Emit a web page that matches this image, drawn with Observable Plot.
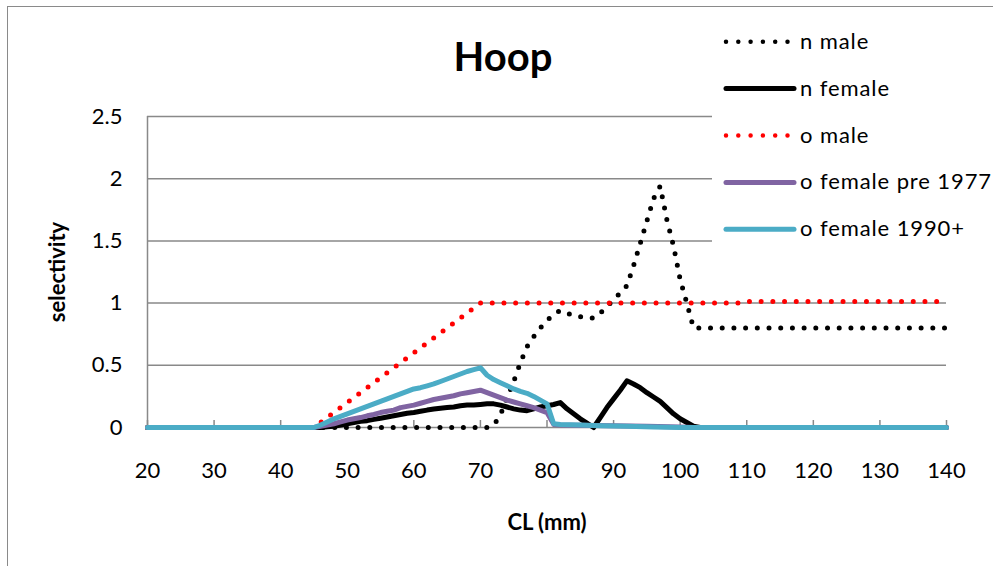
<!DOCTYPE html>
<html>
<head>
<meta charset="utf-8">
<script src="https://cdn.jsdelivr.net/npm/d3@7"></script>
<script src="https://cdn.jsdelivr.net/npm/@observablehq/plot@0.6"></script>
<style>
  body { margin: 0; background: #fff; }
  #wrap { position: relative; width: 993px; height: 566px; overflow: hidden; font-family: Lato, sans-serif; background: #fff; }
  #chart { position: absolute; left: 0; top: 0; }
  #border { position: absolute; left: 7px; top: 6px; width: 1200px; height: 800px;
            border-left: 1.5px solid #8a8a8a; border-top: 1.5px solid #8a8a8a; pointer-events: none; }
  #legend { position: absolute; left: 712px; top: 10px; width: 281px; height: 248px; background: #fff; }
</style>
</head>
<body>
<div id="wrap">
  <div id="chart"></div>
  <div id="legend"></div>
  <div id="border"></div>
</div>
<script>
// ---- data ----
const title = "Hoop";
const xLabel = "CL (mm)";
const yLabel = "selectivity";
const xTicks = [20, 30, 40, 50, 60, 70, 80, 90, 100, 110, 120, 130, 140];
const yTicks = [0, 0.5, 1, 1.5, 2, 2.5];

const seriesNames = ["n male", "n female", "o male", "o female pre 1977", "o female 1990+"];
const seriesColors = ["#000000", "#000000", "#ff0000", "#8064a2", "#4bacc6"];
const seriesDotted = [true, false, true, false, false];

const nMaleCL  = [20, 71, 72, 73, 74, 75, 76, 77, 78, 79, 80, 81, 82, 83, 84, 85, 86, 87, 88, 89, 90, 91, 92, 93, 94, 95, 96, 97, 98, 99, 100, 101, 102, 140];
const nMaleSel = [0, 0, 0.02, 0.10, 0.24, 0.37, 0.52, 0.65, 0.73, 0.80, 0.86, 0.91, 0.94, 0.92, 0.90, 0.89, 0.88, 0.88, 0.92, 0.97, 1.03, 1.08, 1.14, 1.30, 1.48, 1.66, 1.84, 1.94, 1.67, 1.46, 1.19, 1.0, 0.80, 0.80];

const nFemaleCL  = [20, 46, 47, 48, 49, 50, 51, 52, 53, 54, 55, 56, 57, 58, 59, 60, 61, 62, 63, 64, 65, 66, 67, 68, 69, 70, 71, 72, 73, 74, 75, 76, 77, 78, 79, 80, 81, 82, 83, 84, 85, 86, 87, 88, 89, 90, 91, 92, 93, 94, 95, 96, 97, 98, 99, 100, 101, 102, 103, 140];
const nFemaleSel = [0, 0, 0.005, 0.01, 0.02, 0.03, 0.04, 0.05, 0.055, 0.065, 0.075, 0.085, 0.095, 0.105, 0.115, 0.12, 0.13, 0.14, 0.148, 0.155, 0.16, 0.165, 0.175, 0.18, 0.18, 0.185, 0.19, 0.19, 0.18, 0.165, 0.15, 0.14, 0.135, 0.15, 0.165, 0.175, 0.185, 0.20, 0.15, 0.11, 0.07, 0.035, 0.0, 0.08, 0.16, 0.23, 0.30, 0.375, 0.35, 0.32, 0.28, 0.245, 0.21, 0.16, 0.11, 0.07, 0.04, 0.01, 0, 0];

const oMaleCL  = [20, 45, 70, 109, 110, 140];
const oMaleSel = [0, 0, 1.0, 1.0, 1.013, 1.013];

const oFemPreCL  = [20, 45, 46, 47, 48, 49, 50, 51, 52, 53, 54, 55, 56, 57, 58, 59, 60, 61, 62, 63, 64, 65, 66, 67, 68, 69, 70, 71, 72, 73, 74, 75, 76, 77, 78, 79, 80, 81, 82, 90, 95, 100, 102, 140];
const oFemPreSel = [0, 0, 0.01, 0.02, 0.03, 0.045, 0.06, 0.07, 0.08, 0.094, 0.105, 0.12, 0.13, 0.14, 0.16, 0.17, 0.18, 0.195, 0.21, 0.225, 0.235, 0.245, 0.255, 0.27, 0.28, 0.29, 0.30, 0.28, 0.26, 0.24, 0.22, 0.205, 0.19, 0.175, 0.16, 0.14, 0.12, 0.025, 0.02, 0.015, 0.01, 0.005, 0, 0];

const oFem90CL  = [20, 45, 46, 47, 48, 49, 50, 51, 52, 53, 54, 55, 56, 57, 58, 59, 60, 61, 62, 63, 64, 65, 66, 67, 68, 69, 70, 71, 72, 73, 74, 75, 76, 77, 78, 79, 80, 81, 82, 85, 88, 92, 96, 100, 140];
const oFem90Sel = [0, 0, 0.02, 0.045, 0.07, 0.09, 0.11, 0.13, 0.15, 0.17, 0.19, 0.21, 0.23, 0.25, 0.27, 0.29, 0.31, 0.32, 0.335, 0.35, 0.37, 0.39, 0.41, 0.43, 0.45, 0.465, 0.48, 0.42, 0.385, 0.36, 0.335, 0.31, 0.29, 0.275, 0.25, 0.22, 0.19, 0.03, 0.025, 0.02, 0.015, 0.01, 0.005, 0, 0];

const seriesCL  = [nMaleCL, nFemaleCL, oMaleCL, oFemPreCL, oFem90CL];
const seriesSel = [nMaleSel, nFemaleSel, oMaleSel, oFemPreSel, oFem90Sel];

// ---- build table ----
const rows = seriesNames.flatMap((name, s) =>
  seriesCL[s].map((c, i) => ({ series: name, cl: c, sel: seriesSel[s][i] })));

const grey = "#898989";
const font = "Lato, sans-serif";

const lineMarks = seriesNames.map((name, s) =>
  Plot.line(rows.filter(d => d.series === name), {
    x: "cl", y: "sel",
    stroke: seriesColors[s],
    strokeWidth: 5,
    strokeLinecap: "round",
    strokeLinejoin: "round",
    strokeDasharray: seriesDotted[s] ? "0 11.7" : null
  }));

const chart = Plot.plot({
  width: 993,
  height: 566,
  marginLeft: 147,
  marginRight: 47,
  marginTop: 116,
  marginBottom: 139,
  style: { fontFamily: font, fontSize: "22px", color: "#000", background: "transparent" },
  x: { domain: [20, 140] },
  y: { domain: [0, 2.5] },
  marks: [
    Plot.ruleY(yTicks.filter(d => d > 0), { stroke: grey, strokeWidth: 1.5 }),
    Plot.ruleX([20], { stroke: grey, strokeWidth: 1.5 }),
    Plot.ruleY([0], { stroke: grey, strokeWidth: 1.5 }),
    Plot.tickX(xTicks, { x: d => d, stroke: grey, strokeWidth: 1.5, insetTop: 304 }),
    Plot.axisX({ ticks: xTicks, tickSize: 0, tickPadding: 35, fontSize: 22, label: null, tickFormat: d => String(d) }),
    Plot.axisY({ ticks: yTicks, tickSize: 0, tickPadding: 25, fontSize: 22, label: null, tickFormat: d => String(d) }),
    ...lineMarks,
    Plot.text([title], { frameAnchor: "top", lineAnchor: "middle", textAnchor: "middle", dx: -44, dy: -58, fontSize: 40, fontWeight: "bold", fill: "#000" }),
    Plot.text([yLabel], { frameAnchor: "left", lineAnchor: "middle", textAnchor: "middle", dx: -90, rotate: -90, fontSize: 22, fontWeight: "bold", fill: "#000" }),
    Plot.text([xLabel], { frameAnchor: "bottom", lineAnchor: "middle", textAnchor: "middle", dy: 95, fontSize: 22, fontWeight: "bold", fill: "#000" })
  ]
});
document.getElementById("chart").appendChild(chart);

// ---- legend ----
const lg = d3.select("#legend").append("svg").attr("width", 281).attr("height", 248)
  .style("font-family", font);
const rowY0 = 31.7, rowStep = 46.9;
seriesNames.forEach((name, s) => {
  const y = rowY0 + s * rowStep;
  const g = lg.append("g");
  g.append("line")
    .attr("x1", 14).attr("x2", 82).attr("y1", y).attr("y2", y)
    .attr("stroke", seriesColors[s])
    .attr("stroke-width", seriesDotted[s] ? 4.5 : 5)
    .attr("stroke-linecap", "round")
    .attr("stroke-dasharray", seriesDotted[s] ? "0 12.3" : null);
  g.append("text")
    .attr("x", 88).attr("y", y + 7)
    .attr("font-size", 22)
    .attr("letter-spacing", "0.9px")
    .attr("fill", "#000")
    .text(name);
});
</script>
</body>
</html>
